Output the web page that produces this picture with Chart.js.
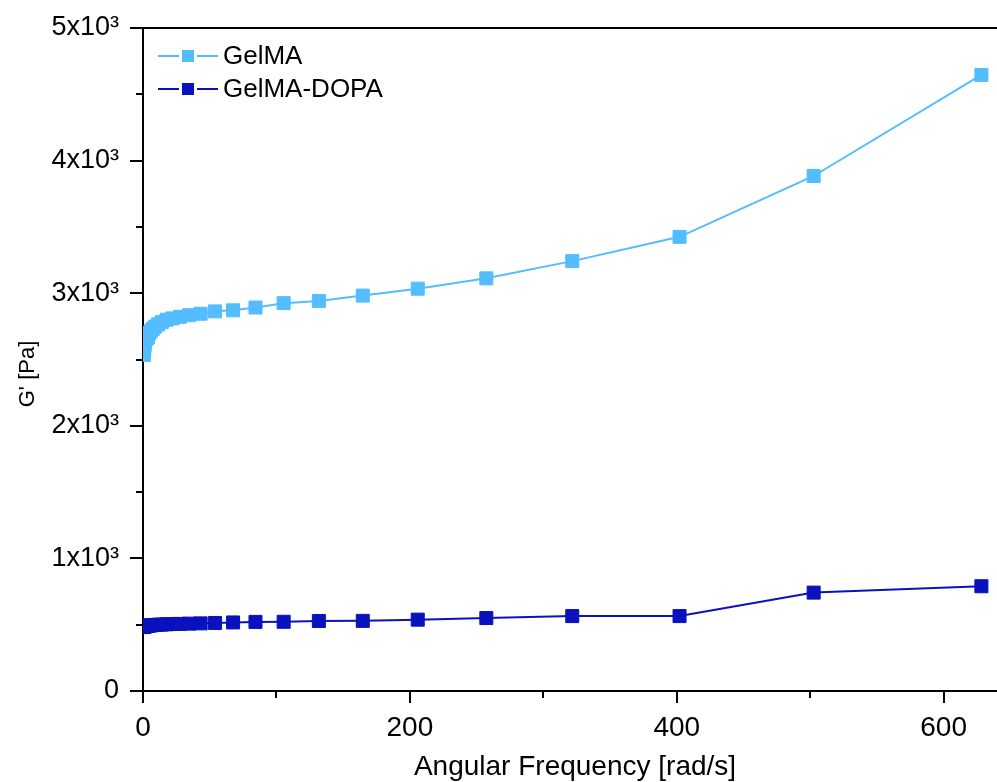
<!DOCTYPE html>
<html>
<head>
<meta charset="utf-8">
<script src="https://cdn.jsdelivr.net/npm/chart.js@4/dist/chart.umd.min.js"></script>
<style>
  html, body { margin: 0; padding: 0; background: #fff; overflow: hidden; }
  canvas { display: block; }
</style>
</head>
<body>
<canvas id="chart" width="997" height="782"></canvas>
<script>
// Frequency sweep, angular frequency in rad/s
const frequency = [0.62, 0.78, 0.97, 1.21, 1.52, 1.90, 2.37, 2.96, 3.71, 4.63, 5.79, 7.24, 9.05,
  11.3, 14.1, 17.7, 22.1, 27.6, 34.5, 43.2, 54.0, 67.5, 84.3, 105.4, 131.8, 164.7, 205.9,
  257.3, 321.7, 402.1, 502.6, 628.3];

// Storage modulus G' [Pa]
const gelma = [2535, 2560, 2585, 2610, 2630, 2648, 2660, 2662, 2668, 2700, 2712, 2730, 2748,
  2765, 2782, 2800, 2810, 2822, 2834, 2845, 2863, 2871, 2892, 2925, 2942, 2982, 3034,
  3112, 3242, 3425, 3884, 4646];
const gelmaDopa = [482, 484, 486, 487, 488, 489, 490, 491, 492, 494, 495, 497, 498,
  500, 501, 503, 505, 506, 508, 510, 513, 517, 521, 522, 528, 529, 538,
  550, 565, 565, 742, 790];

const seriesNames = ['GelMA', 'GelMA-DOPA'];
const seriesColors = ['#53BDFF', '#0A12BD'];

const xMajorTicks = [0, 200, 400, 600];
const xMinorTicks = [100, 300, 500];
const yMajorTicks = [0, 1000, 2000, 3000, 4000, 5000];
const yMinorTicks = [500, 1500, 2500, 3500, 4500];
const yTickLabels = ['0', '1x10³', '2x10³', '3x10³', '4x10³', '5x10³'];

const xTitle = 'Angular Frequency [rad/s]';
const yTitle = "G' [Pa]";

const FONT = "'Liberation Sans', Arial, sans-serif";

function toPoints(xs, ys) {
  return xs.map((x, i) => ({ x: x, y: ys[i] }));
}

// Minor ticks, top frame line, axis titles and the line+marker legend
const decorations = {
  id: 'decorations',
  afterDraw(chart) {
    const ctx = chart.ctx;
    const area = chart.chartArea;
    const xs = chart.scales.x;
    const ys = chart.scales.y;
    ctx.save();
    ctx.strokeStyle = '#000';
    ctx.lineWidth = 2;
    // top frame
    ctx.beginPath();
    ctx.moveTo(area.left - 1, area.top);
    ctx.lineTo(chart.width, area.top);
    ctx.stroke();
    // minor ticks
    ctx.beginPath();
    xMinorTicks.forEach(v => {
      const px = Math.round(xs.getPixelForValue(v));
      ctx.moveTo(px, area.bottom);
      ctx.lineTo(px, area.bottom + 7);
    });
    yMinorTicks.forEach(v => {
      const py = Math.round(ys.getPixelForValue(v));
      ctx.moveTo(area.left, py);
      ctx.lineTo(area.left - 7, py);
    });
    ctx.stroke();

    // axis titles
    ctx.fillStyle = '#000';
    ctx.font = '28px ' + FONT;
    ctx.textAlign = 'center';
    ctx.textBaseline = 'alphabetic';
    ctx.fillText(xTitle, 575, 775);
    ctx.save();
    ctx.translate(34, 374);
    ctx.rotate(-Math.PI / 2);
    ctx.font = '22px ' + FONT;
    ctx.fillText(yTitle, 0, 0);
    ctx.restore();

    // legend
    ctx.font = '26px ' + FONT;
    ctx.textAlign = 'left';
    ctx.textBaseline = 'middle';
    chart.data.datasets.forEach((ds, i) => {
      const cy = 56 + i * 33;
      ctx.strokeStyle = ds.borderColor;
      ctx.lineWidth = 2;
      ctx.beginPath();
      ctx.moveTo(158, cy); ctx.lineTo(179, cy);
      ctx.moveTo(197, cy); ctx.lineTo(218, cy);
      ctx.stroke();
      ctx.fillStyle = ds.backgroundColor;
      ctx.fillRect(182, cy - 6, 12, 12);
      ctx.fillStyle = '#000';
      ctx.fillText(ds.label, 223, cy + 1);
    });
    ctx.restore();
  }
};

const makeDataset = (label, ys, color) => ({
  label: label,
  data: toPoints(frequency, ys),
  borderColor: color,
  backgroundColor: color,
  borderWidth: 2,
  pointStyle: 'rect',
  pointRadius: 9.2,
  pointBorderWidth: 1,
  pointBackgroundColor: color,
  pointBorderColor: color,
  tension: 0,
  clip: 0
});

new Chart(document.getElementById('chart'), {
  type: 'line',
  data: {
    datasets: [
      makeDataset(seriesNames[0], gelma, seriesColors[0]),
      makeDataset(seriesNames[1], gelmaDopa, seriesColors[1])
    ]
  },
  options: {
    responsive: false,
    animation: false,
    devicePixelRatio: 1,
    layout: { autoPadding: false, padding: { top: 28, left: 0, right: 0, bottom: 0 } },
    plugins: {
      legend: { display: false },
      tooltip: { enabled: false }
    },
    scales: {
      x: {
        type: 'linear',
        min: 0,
        max: 640,
        afterBuildTicks: s => { s.ticks = xMajorTicks.map(v => ({ value: v })); },
        afterFit: s => { s.height = 91; },
        border: { display: true, color: '#000', width: 2 },
        grid: { drawOnChartArea: false, drawTicks: true, tickLength: 12, color: '#000', lineWidth: 2 },
        ticks: {
          color: '#000',
          padding: 8,
          maxRotation: 0,
          font: { family: FONT, size: 28 },
          callback: v => String(v)
        },
        title: { display: false }
      },
      y: {
        type: 'linear',
        min: 0,
        max: 5000,
        afterBuildTicks: s => { s.ticks = yMajorTicks.map(v => ({ value: v })); },
        afterFit: s => { s.width = 143; },
        border: { display: true, color: '#000', width: 2 },
        grid: { drawOnChartArea: false, drawTicks: true, tickLength: 13, color: '#000', lineWidth: 2 },
        ticks: {
          color: '#000',
          padding: 11,
          font: { family: FONT, size: 27 },
          callback: v => yTickLabels[yMajorTicks.indexOf(v)]
        },
        title: { display: false }
      }
    }
  },
  plugins: [decorations]
});
</script>
</body>
</html>
